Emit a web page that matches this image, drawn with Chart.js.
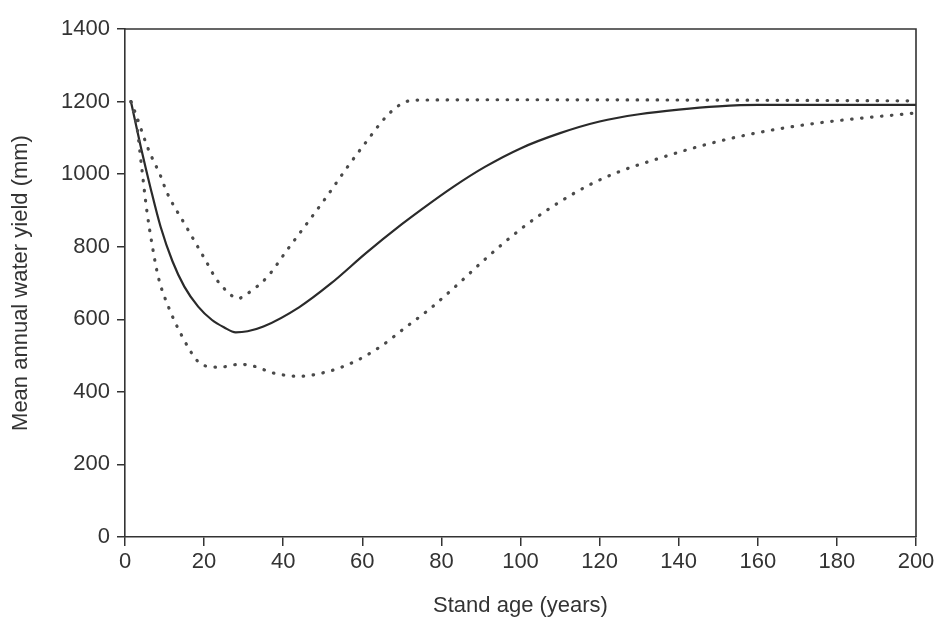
<!DOCTYPE html>
<html>
<head>
<meta charset="utf-8">
<script src="https://cdn.jsdelivr.net/npm/chart.js@4/dist/chart.umd.min.js"></script>
<style>
  body { margin: 0; background: #fff; }
  #wrap { width: 941px; height: 623px; }
</style>
</head>
<body>
<div id="wrap"><canvas id="myChart" width="941" height="623"></canvas></div>
<script>
// stand age (years) and mean annual water yield (mm)
var meanAge   = [1.5, 4, 6.5, 9, 12, 15, 18.5, 22, 25, 28, 31, 35, 44, 52, 61, 70, 75, 83, 91, 100, 110, 120, 130, 140, 150, 160, 180, 200];
var meanYield = [1200, 1075, 960, 855, 760, 690, 635, 598, 578, 564, 567, 580, 633, 698, 783, 862, 903, 965, 1020, 1071, 1113, 1145, 1165, 1178, 1187, 1191, 1191, 1191];

var upperAge   = [1.5, 2.5, 6, 9, 10.5, 15.5, 20.5, 23, 25.7, 28.5, 31, 36, 41, 46, 51, 56, 61, 66, 69.5, 73, 100, 150, 200];
var upperYield = [1200, 1172, 1066, 995, 952, 855, 760, 712, 678, 657, 671, 717, 791, 864, 938, 1016, 1089, 1158, 1191, 1204, 1205, 1204, 1202];

var lowerAge   = [1.5, 3, 4.2, 5.5, 6.8, 8.4, 11, 14.3, 18.5, 21, 24, 29, 32.5, 37.5, 44, 51, 58, 64.5, 71, 77, 83, 91.5, 100, 108, 117, 125, 134, 145, 155, 166, 176, 186, 199.5];
var lowerYield = [1200, 1131, 1020, 901, 809, 717, 634, 556, 483, 470, 468, 476, 471, 452, 443, 455, 483, 524, 578, 628, 685, 770, 848, 910, 968, 1007, 1040, 1076, 1103, 1126, 1142, 1154, 1168];

var xTicks = [0, 20, 40, 60, 80, 100, 120, 140, 160, 180, 200];
var yTicks = [0, 200, 400, 600, 800, 1000, 1200, 1400];

function pts(xs, ys) {
    var out = [];
    for (var i = 0; i < xs.length; i++) {
        out.push({x: xs[i], y: ys[i]});
    }
    return out;
}

var frameColor = '#333';
var textFont = { family: 'Liberation Sans, Arial, sans-serif', size: 22 };

// draws top and right edges of the box
var framePlugin = {
    id: 'frame',
    afterDraw: function(chart) {
        var a = chart.chartArea, ctx = chart.ctx;
        ctx.save();
        ctx.strokeStyle = frameColor;
        ctx.lineWidth = 1.6;
        ctx.beginPath();
        ctx.moveTo(a.left, a.top);
        ctx.lineTo(a.right, a.top);
        ctx.lineTo(a.right, a.bottom);
        ctx.stroke();
        ctx.restore();
    }
};

var dotted = {
    borderColor: '#4a4a4a',
    borderWidth: 3.2,
    borderDash: [0.5, 9.5],
    borderCapStyle: 'round',
    pointRadius: 0,
    fill: false,
    cubicInterpolationMode: 'monotone'
};

var ctx = document.getElementById('myChart').getContext('2d');
var myChart = new Chart(ctx, {
    type: 'line',
    data: {
        datasets: [
            Object.assign({ label: 'Upper', data: pts(upperAge, upperYield) }, dotted),
            Object.assign({ label: 'Lower', data: pts(lowerAge, lowerYield) }, dotted),
            {
                label: 'Mean',
                data: pts(meanAge, meanYield),
                borderColor: '#2a2a2a',
                borderWidth: 2.2,
                pointRadius: 0,
                fill: false,
                cubicInterpolationMode: 'monotone'
            }
        ]
    },
    options: {
        responsive: false,
        animation: false,
        layout: { padding: { left: 0, right: 25, top: 29, bottom: 0 } },
        plugins: { legend: { display: false }, tooltip: { enabled: false } },
        scales: {
            x: {
                type: 'linear',
                min: 0,
                max: 200,
                afterBuildTicks: function(scale) {
                    scale.ticks = xTicks.map(function(v) { return {value: v}; });
                },
                afterFit: function(scale) { scale.height = 86; },
                grid: { drawOnChartArea: false, tickLength: 9, color: frameColor, lineWidth: 1.5 },
                border: { color: frameColor, width: 1.6 },
                ticks: {
                    color: '#333', font: textFont, padding: 3, maxRotation: 0,
                    callback: function(v) { return String(v); }
                },
                title: {
                    display: true,
                    text: 'Stand age (years)',
                    color: '#333',
                    font: textFont,
                    padding: { top: 0, bottom: 4 }
                }
            },
            y: {
                min: 0,
                max: 1400,
                afterBuildTicks: function(scale) {
                    scale.ticks = yTicks.map(function(v) { return {value: v}; });
                },
                afterFit: function(scale) { scale.width = 125; },
                grid: { drawOnChartArea: false, tickLength: 8, color: frameColor, lineWidth: 1.5 },
                border: { color: frameColor, width: 1.6 },
                ticks: {
                    color: '#333', font: textFont, padding: 7,
                    callback: function(v) { return String(v); }
                },
                title: {
                    display: true,
                    text: 'Mean annual water yield (mm)',
                    color: '#333',
                    font: textFont,
                    padding: { top: 8, bottom: 0 }
                }
            }
        }
    },
    plugins: [framePlugin]
});
</script>
</body>
</html>
